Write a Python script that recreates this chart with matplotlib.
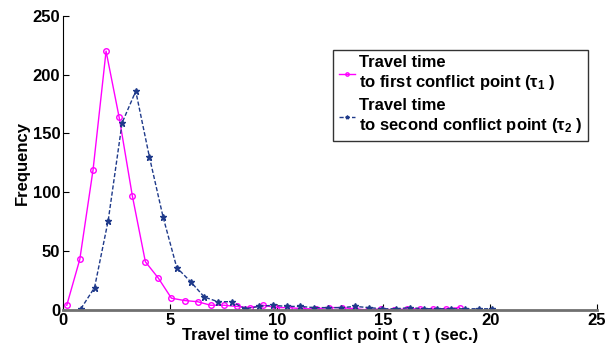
import numpy as np
import matplotlib.pyplot as plt

plt.rcParams["font.family"] = ["Liberation Sans", "DejaVu Sans"]
plt.rcParams["font.weight"] = "bold"
plt.rcParams["mathtext.fontset"] = "custom"
plt.rcParams["mathtext.rm"] = "Liberation Sans:bold"
plt.rcParams["mathtext.it"] = "Liberation Sans:bold"
plt.rcParams["mathtext.bf"] = "Liberation Sans:bold"

# bin centres (sec.) and counts for each travel time
tau1_x = [0.17, 0.78, 1.40, 2.01, 2.62, 3.24, 3.85, 4.46, 5.07, 5.69,
          6.30, 6.91, 7.53, 8.14, 8.75, 9.37, 9.98, 10.59, 11.20, 11.82,
          12.43, 13.04, 13.66, 14.27, 14.88, 15.50, 16.11, 16.72, 17.33, 17.95, 18.56]
tau1_freq = [4, 43, 119, 220, 164, 97, 41, 27, 10, 8,
             7, 4, 4, 3, 2, 4, 2, 2, 1, 1,
             2, 2, 1, 0, 1, 0, 1, 1, 1, 1, 2]

tau2_x = [0.83, 1.47, 2.11, 2.76, 3.40, 4.04, 4.68, 5.32, 5.97, 6.61,
          7.25, 7.89, 8.53, 9.18, 9.82, 10.46, 11.10, 11.74, 12.39, 13.03,
          13.67, 14.31, 14.95, 15.60, 16.24, 16.88, 17.52, 18.16, 18.81, 19.45, 20.09]
tau2_freq = [1, 19, 76, 159, 186, 130, 79, 36, 24, 11,
             7, 7, 1, 3, 4, 3, 3, 2, 2, 2,
             3, 2, 1, 1, 2, 1, 1, 1, 1, 1, 1]

fig = plt.figure(figsize=(6.13, 3.6), dpi=100)
ax = fig.add_axes([0.103, 0.139, 0.871, 0.817])

ax.plot(tau1_x, tau1_freq, color="#ff00ff", lw=1.0, marker="o", ms=4,
        mfc="none", mec="#ff00ff", mew=1.0,
        label="Travel time\nto first conflict point ($\\tau_1$ )")
ax.plot(tau2_x, tau2_freq, color="#1f3a8a", lw=1.0, ls="--", dashes=(3, 1.5),
        marker="*", ms=4.5, mfc="#1f3a8a", mec="#1f3a8a",
        label="Travel time\nto second conflict point ($\\tau_2$ )")

ax.set_xlim(0, 25)
ax.set_ylim(0, 250)
ax.set_xticks([0, 5, 10, 15, 20, 25])
ax.set_yticks([0, 50, 100, 150, 200, 250])
ax.tick_params(direction="in", length=4, width=0.8, labelsize=12, pad=2)
for lbl in ax.get_xticklabels() + ax.get_yticklabels():
    lbl.set_fontweight("bold")

ax.spines["top"].set_visible(False)
ax.spines["right"].set_visible(False)
ax.spines["bottom"].set_color("#707070")
ax.spines["bottom"].set_linewidth(2)
ax.spines["left"].set_linewidth(0.8)

ax.set_xlabel("Travel time to conflict point ( τ ) (sec.)", fontsize=12,
              fontweight="bold", labelpad=0)
ax.set_ylabel("Frequency", fontsize=12, fontweight="bold", labelpad=2)

leg = ax.legend(loc="upper right", bbox_to_anchor=(0.983, 0.885),
                fontsize=12, frameon=True, fancybox=False, handlelength=1.0,
                handletextpad=0.2, borderpad=0.35, labelspacing=0.35,
                markerscale=0.6, borderaxespad=0)
leg.get_frame().set_edgecolor("black")
leg.get_frame().set_linewidth(1.0)
for t in leg.get_texts():
    t.set_fontweight("bold")

fig.savefig("out.png", dpi=100)
